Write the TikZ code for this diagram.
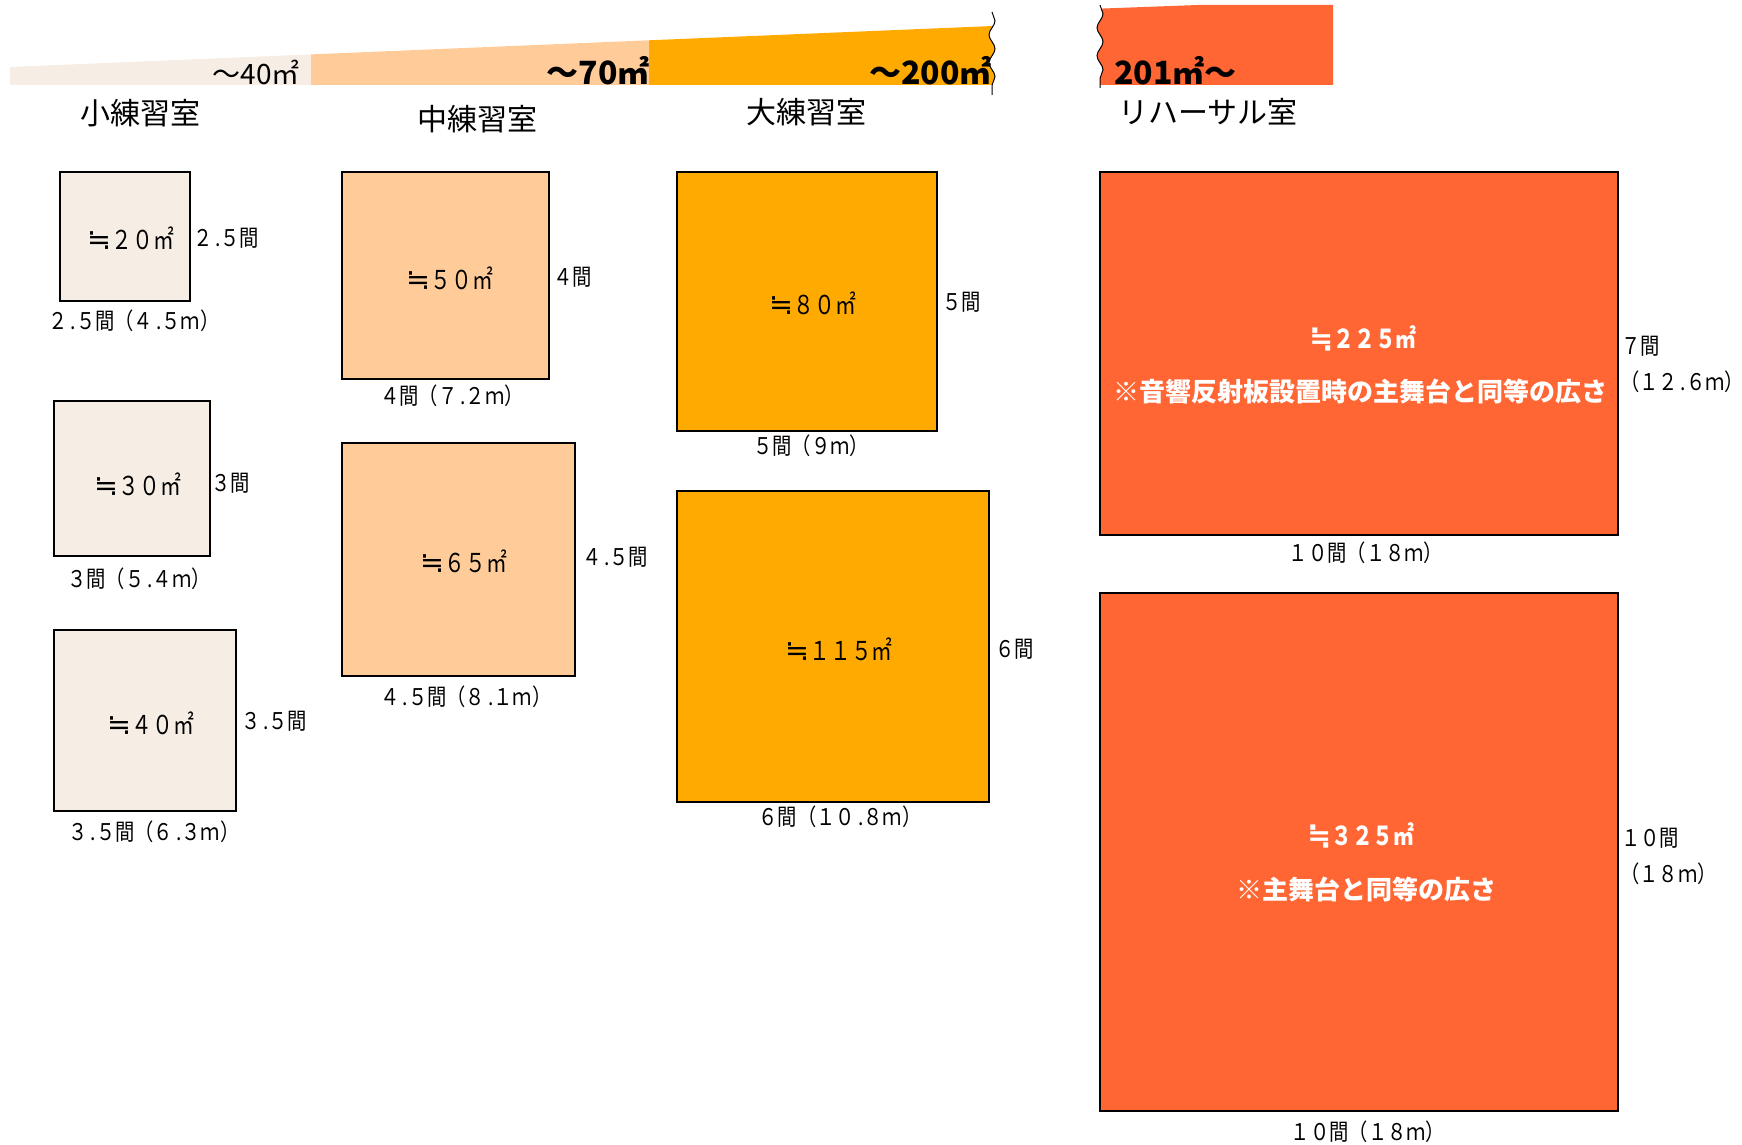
\documentclass[tikz,border=0pt]{standalone}
\usepackage{fontspec}
\setmainfont{Noto Sans CJK JP}
\newfontfamily\narrowjp[FakeStretch=0.8]{Noto Sans CJK JP}
\newfontfamily\dimjp[FakeStretch=0.84]{Noto Sans CJK JP}
\newfontfamily\symjp[Scale=1.1]{DejaVu Sans}
\newcommand\approxsym{{\symjp ≒}}
\newcommand\kdot{\kern0.12em.}
\usetikzlibrary{decorations.pathmorphing}
\definecolor{smallroom}{HTML}{F6EDE4}
\definecolor{midroom}{HTML}{FFCC99}
\definecolor{bigroom}{HTML}{FFAA00}
\definecolor{rehroom}{HTML}{FF6633}
\tikzset{
  room/.style={draw=black, line width=1.5pt},
  area/.style={font=\narrowjp\fontsize{26}{30}\selectfont},
  bigarea/.style={font=\narrowjp\bfseries\fontsize{26}{30}\selectfont, text=white},
  note/.style={font=\bfseries\fontsize{26}{30}\selectfont, text=white},
  dim/.style={font=\dimjp\fontsize{23}{26}\selectfont, inner sep=0pt},
  side/.style={dim, anchor=west},
  heading/.style={font=\fontsize{30}{34}\selectfont},
  band/.style={font=\bfseries\fontsize{32}{36}\selectfont, inner sep=0pt},
  wave/.style={decorate, decoration={snake, amplitude=3pt, segment length=28pt}},
  breakline/.style={draw=black, line width=1pt, wave},
}
\begin{document}
\begin{tikzpicture}[x=1pt,y=-1pt]
\useasboundingbox (0,0) rectangle (1742,1145);

% size band
\fill [smallroom] (10,67) -- (311,54.4) -- (311,85) -- (10,85) -- cycle;
\fill [midroom] (311,54.4) -- (649,40.3) -- (649,85) -- (311,85) -- cycle;
\begin{scope}
\clip (649,40.3) -- (1000,25.7) -- (1000,85) -- (649,85) -- cycle;
\fill [bigroom] (640,95) -- (640,12) -- (992,12) decorate[wave] {-- (992,95)} -- cycle;
\end{scope}
\begin{scope}
\clip (1090,9) -- (1333,0) -- (1333,85) -- (1090,85) -- cycle;
\fill [rehroom] (1100,5) decorate[wave] {-- (1100,88)} -- (1340,88) -- (1340,5) -- cycle;
\end{scope}
\draw [breakline] (992,12) -- (992,95);
\draw [breakline] (1100,5) -- (1100,88);

\node [band, font=\fontsize{28}{32}\selectfont, anchor=base east] (t40) at (300,85) {～40㎡};
\node [band, anchor=base east] (t70) at (650,85) {～70㎡};
\node [band, anchor=base east] (t200) at (992,85) {～200㎡};
\node [band, anchor=base west] (t201) at (1114,85) {201㎡～};

\node [heading] (hsmall) at (140,113) {小練習室};
\node [heading] (hmid) at (477,119) {中練習室};
\node [heading] (hbig) at (806,112) {大練習室};
\node [heading] (hreh) at (1208,112) {リハーサル室};

% small rooms
\draw [room, fill=smallroom] (60,172) rectangle (190,301);
\draw [room, fill=smallroom] (54,401) rectangle (210,556);
\draw [room, fill=smallroom] (54,630) rectangle (236,811);

\node [area] (a20) at (131,238) {\approxsym２０㎡};
\node [side] (s20) at (193,238) {２\kdot５間};
\node [dim] (b20) at (134,321) {２\kdot５間（４\kdot５ｍ）};
\node [area] (a30) at (138,484) {\approxsym３０㎡};
\node [side] (s30) at (211,483) {３間};
\node [dim] (b30) at (139,579) {３間（５\kdot４ｍ）};
\node [area] (a40) at (151,723) {\approxsym４０㎡};
\node [side] (s40) at (241,721) {３\kdot５間};
\node [dim] (b40) at (154,832) {３\kdot５間（６\kdot３ｍ）};

% middle rooms
\draw [room, fill=midroom] (342,172) rectangle (549,379);
\draw [room, fill=midroom] (342,443) rectangle (575,676);

\node [area] (a50) at (450,278) {\approxsym５０㎡};
\node [side] (s50) at (553,277) {４間};
\node [dim] (b50) at (452,396) {４間（７\kdot２ｍ）};
\node [area] (a65) at (464,561) {\approxsym６５㎡};
\node [side] (s65) at (582,557) {４\kdot５間};
\node [dim] (b65) at (466,697) {４\kdot５間（８\kdot１ｍ）};

% big rooms
\draw [room, fill=bigroom] (677,172) rectangle (937,431);
\draw [room, fill=bigroom] (677,491) rectangle (989,802);

\node [area] (a80) at (813,303) {\approxsym８０㎡};
\node [side] (s80) at (942,302) {５間};
\node [dim] (b80) at (811,446) {５間（９ｍ）};
\node [area] (a115) at (839,649) {\approxsym１１５㎡};
\node [side] (s115) at (995,649) {６間};
\node [dim] (b115) at (840,817) {６間（１０\kdot８ｍ）};

% rehearsal rooms
\draw [room, fill=rehroom] (1100,172) rectangle (1618,535);
\draw [room, fill=rehroom] (1100,593) rectangle (1618,1111);

\node [bigarea] (a225) at (1363,338) {\approxsym２２５㎡};
\node [note] (n225) at (1360,392) {※音響反射板設置時の主舞台と同等の広さ};
\node [side] (s225) at (1621,346) {７間};
\node [side] (m225) at (1620,382) {（１２\kdot６ｍ）};
\node [dim] (b225) at (1366,553) {１０間（１８ｍ）};
\node [bigarea] (a325) at (1361,835) {\approxsym３２５㎡};
\node [note] (n325) at (1366,890) {※主舞台と同等の広さ};
\node [side] (s325) at (1621,838) {１０間};
\node [side] (m325) at (1620,874) {（１８ｍ）};
\node [dim] (b325) at (1368,1132) {１０間（１８ｍ）};
\end{tikzpicture}
\end{document}
